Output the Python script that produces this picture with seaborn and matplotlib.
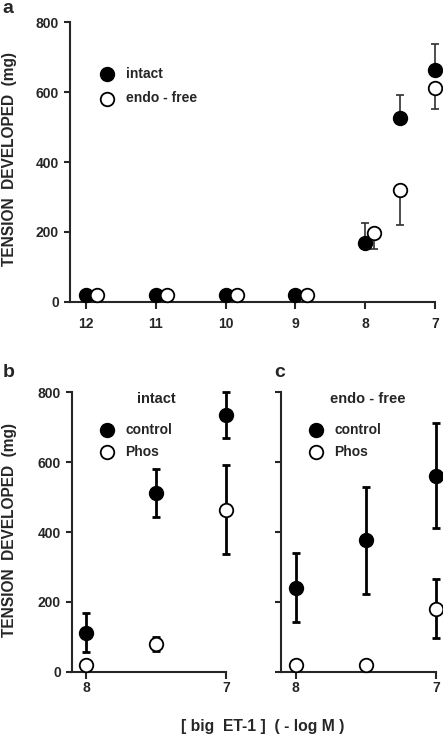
import numpy as np
import pandas as pd
import matplotlib
matplotlib.use("Agg")
import matplotlib.pyplot as plt
import seaborn as sns

# ---- data ----
# panel a : concentration (-log M), intact vs endothelium-free
a_intact_x = [12, 11, 10, 9, 8, 7.5, 7]
a_intact_y = [20, 20, 20, 20, 167, 526, 664]
a_intact_up = [0, 0, 0, 0, 58, 66, 73]
a_endo_x = [11.84, 10.84, 9.84, 8.84, 7.87, 7.5, 7]
a_endo_y = [20, 20, 20, 20, 197, 320, 612]
a_endo_dn = [0, 0, 0, 0, 45, 101, 60]

# panel b : intact, control vs Phos
b_x = [8, 7.5, 7]
b_ctrl_y = [112, 511, 735]
b_ctrl_err = [55, 69, 66]
b_phos_y = [20, 80, 464]
b_phos_err = [0, 20, 127]

# panel c : endo-free, control vs Phos
c_x = [8, 7.5, 7]
c_ctrl_y = [241, 376, 562]
c_ctrl_err = [100, 152, 149]
c_phos_y = [20, 20, 181]
c_phos_err = [0, 0, 84]

a_ticks = [12, 11, 10, 9, 8, 7]
bc_ticks = [8, 7]
y_ticks = [0, 200, 400, 600, 800]

sns.set_style("ticks")
plt.rcParams["font.family"] = ["Liberation Sans", "DejaVu Sans"]
plt.rcParams["font.weight"] = "bold"
plt.rcParams["axes.linewidth"] = 1.5

fig = plt.figure(figsize=(4.43, 7.35), dpi=100)
ax_a = fig.add_axes([0.158, 0.5895, 0.824, 0.380])
ax_b = fig.add_axes([0.1625, 0.0861, 0.348, 0.380])
ax_c = fig.add_axes([0.634, 0.0861, 0.350, 0.380])

MS = 95  # marker area


def draw_series(ax, x, y, label, filled, yerr, elw, ecol="black"):
    df = pd.DataFrame({"x": x, "y": y, "grp": label})
    ax.errorbar(x, y, yerr=yerr, fmt="none", ecolor=ecol,
                elinewidth=elw, capsize=3, capthick=elw, zorder=2, clip_on=False)
    sns.scatterplot(data=df, x="x", y="y", ax=ax, s=MS,
                    color="black" if filled else "white",
                    edgecolor="black", linewidth=1.3, label=label,
                    zorder=3, clip_on=False)


# panel a (one sided error bars)
zeros = [0] * len(a_intact_x)
draw_series(ax_a, a_intact_x, a_intact_y, "intact", True, [zeros, a_intact_up], 1.2, "#303030")
draw_series(ax_a, a_endo_x, a_endo_y, "endo - free", False, [a_endo_dn, zeros], 1.2, "#303030")
ax_a.set_xlim(12.23, 7)
ax_a.set_xticks(a_ticks)

# panel b
draw_series(ax_b, b_x, b_ctrl_y, "control", True, b_ctrl_err, 2.0)
draw_series(ax_b, b_x, b_phos_y, "Phos", False, b_phos_err, 2.0)
ax_b.set_xlim(8.1, 7)
ax_b.set_xticks(bc_ticks)

# panel c
draw_series(ax_c, c_x, c_ctrl_y, "control", True, c_ctrl_err, 2.0)
draw_series(ax_c, c_x, c_phos_y, "Phos", False, c_phos_err, 2.0)
ax_c.set_xlim(8.107, 7)
ax_c.set_xticks(bc_ticks)

for ax in (ax_a, ax_b, ax_c):
    ax.set_ylim(0, 800)
    ax.set_yticks(y_ticks)
    ax.set_xlabel("")
    ax.set_ylabel("")
    sns.despine(ax=ax)
    ax.tick_params(axis="y", direction="out", length=4, width=1.5,
                   labelsize=10, pad=4)
    ax.tick_params(axis="x", direction="out", length=5, width=1.5,
                   labelsize=10, pad=2)
    for lab in ax.get_xticklabels() + ax.get_yticklabels():
        lab.set_fontweight("bold")

ax_a.tick_params(axis="x", pad=6)

leg_kw = dict(loc="upper left", frameon=False, fontsize=10,
              handletextpad=0.35, borderaxespad=0)
ax_a.legend(bbox_to_anchor=(0.048, 0.86), labelspacing=0.75, **leg_kw)
ax_b.legend(bbox_to_anchor=(0.10, 0.91), labelspacing=0.55, **leg_kw)
ax_c.legend(bbox_to_anchor=(0.10, 0.91), labelspacing=0.55, **leg_kw)
ax_c.set_yticklabels([])

ax_b.text(0.55, 0.975, "intact", transform=ax_b.transAxes, ha="center",
          va="center", fontsize=10.5, fontweight="bold")
ax_c.text(0.56, 0.975, "endo - free", transform=ax_c.transAxes, ha="center",
          va="center", fontsize=10.5, fontweight="bold")

# panel letters
fig.text(0.005, 0.988, "a", fontsize=14, fontweight="bold", va="center")
fig.text(0.005, 0.493, "b", fontsize=14, fontweight="bold", va="center")
fig.text(0.620, 0.493, "c", fontsize=14, fontweight="bold", va="center")

# y labels
fig.text(0.022, 0.784, "TENSION  DEVELOPED  (mg)", rotation=90, ha="center",
         va="center", fontsize=11.2, fontweight="bold")
fig.text(0.022, 0.279, "TENSION  DEVELOPED  (mg)", rotation=90, ha="center",
         va="center", fontsize=11.2, fontweight="bold")

# shared x label
fig.text(0.592, 0.011, "[ big  ET-1 ]  ( - log M )", ha="center", va="center",
         fontsize=11.3, fontweight="bold")

fig.savefig("out.png", dpi=100)
